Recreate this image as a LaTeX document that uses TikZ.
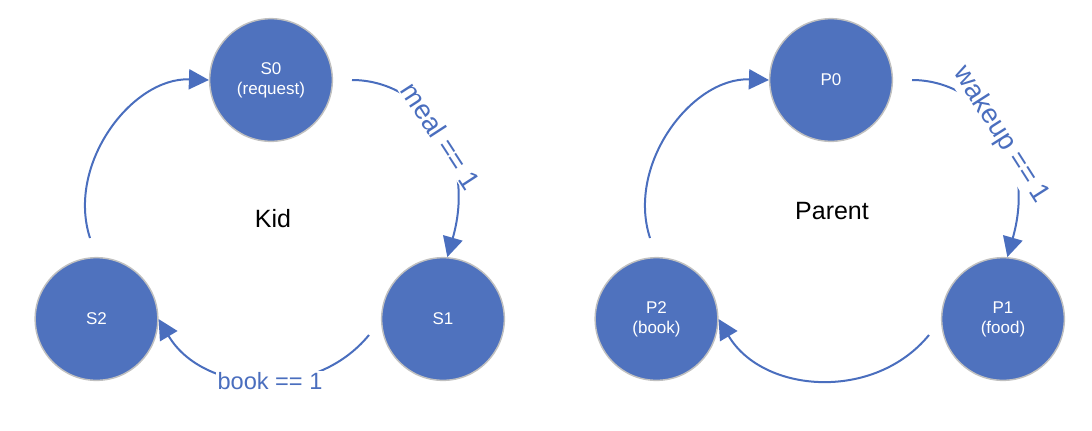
\documentclass[tikz,border=0pt]{standalone}
\usepackage{fontspec}
\setmainfont{Liberation Sans}
\usetikzlibrary{arrows.meta}
\definecolor{nodeblue}{RGB}{79,114,190}
\definecolor{ringgray}{RGB}{192,192,192}
\definecolor{edgeblue}{RGB}{74,110,190}
\begin{document}
\begin{tikzpicture}[x=0.75pt,y=0.75pt,
  state/.style={circle,fill=nodeblue,draw=ringgray,line width=1.1pt,
    minimum size=92pt,inner sep=0pt,text=white,align=center,
    font=\fontsize{12.75}{15}\selectfont},
  trans/.style={draw=edgeblue,line width=1.5pt,
    -{Triangle[length=15pt,width=15pt]}},
  lab/.style={text=edgeblue,fill=white,inner sep=1pt,
    font=\fontsize{17.7}{20}\selectfont},
  slab/.style={lab,font=\fontsize{20.5}{22}\selectfont},
  title/.style={text=black,font=\fontsize{18.75}{22}\selectfont}]
\useasboundingbox (0,0) rectangle (1092,-430);
% Kid
\begin{scope}
  \node[state] (s0) at (271,-80) {S0\\(request)};
  \node[state] (s1) at (443,-319) {S1};
  \node[state] (s2) at (96.5,-319) {S2};
  \coordinate (k20) at (90,-238);
  \coordinate (k01) at (352,-80);
  \coordinate (k12) at (369,-335);
  \draw[trans] (k20) to[bend left=55] (s0.west);
  \draw[trans] (k01) .. controls (420,-80) and (478,-150) .. (s1.86);
  \draw[trans] (k12) to[bend left=55,looseness=1.05] (s2.east);
  \node[slab,rotate=-57] (lmeal) at (441,-136) {meal == 1};
  \node[lab] (lbook) at (270,-381) {book == 1};
  \node[title] (kid) at (273,-219) {Kid};
\end{scope}
% Parent
\begin{scope}[shift={(560,0)}]
  \node[state] (p0) at (271,-80) {P0};
  \node[state] (p1) at (443,-319) {P1\\(food)};
  \node[state] (p2) at (96.5,-319) {P2\\(book)};
  \coordinate (q20) at (90,-238);
  \coordinate (q01) at (352,-80);
  \coordinate (q12) at (369,-335);
  \draw[trans] (q20) to[bend left=55] (p0.west);
  \draw[trans] (q01) .. controls (420,-80) and (478,-150) .. (p1.86);
  \draw[trans] (q12) to[bend left=55,looseness=1.05] (p2.east);
  \node[slab,rotate=-57.5] (lwake) at (441,-135) {wakeup == 1};
  \node[title] (parent) at (272,-211) {Parent};
\end{scope}
\end{tikzpicture}
\end{document}
